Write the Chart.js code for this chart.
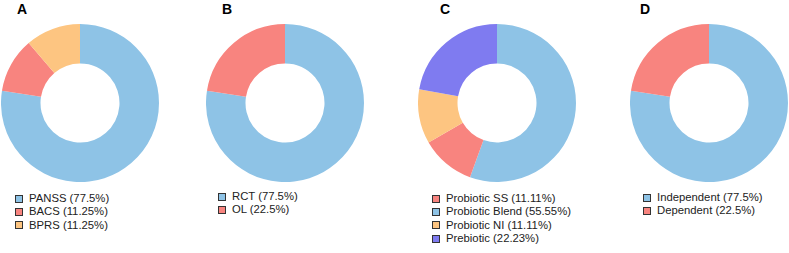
<!DOCTYPE html>
<html>
<head>
<meta charset="utf-8">
<script src="https://cdn.jsdelivr.net/npm/chart.js@4.4.0/dist/chart.umd.min.js"></script>
<style>
  body { margin:0; background:#fff; font-family:"Liberation Sans", Arial, sans-serif; }
  #wrap { position:relative; width:789px; height:253px; overflow:hidden; }
  .panel-label { position:absolute; font-weight:bold; font-size:14px; color:#000; line-height:14px; }
  canvas { position:absolute; }
  .legend { position:absolute; font-size:11.3px; color:#222; }
  .legend div { height:13.3px; line-height:13.3px; white-space:nowrap; display:flex; align-items:center; }
  .legend span.box { display:inline-block; width:6px; height:6px; border:1px solid #333; margin-right:6px; }
</style>
</head>
<body>
<div id="wrap"></div>
<script>
// colours
const BLUE = "#8EC3E6", RED = "#F8847F", ORANGE = "#FDC581", PURPLE = "#7F7BF0";

// A - outcome scales
const aLabels = ["PANSS", "BACS", "BPRS"];
const aValues = [77.5, 11.25, 11.25];
const aText = ["77.5%", "11.25%", "11.25%"];

// B - study design
const bLabels = ["RCT", "OL"];
const bValues = [77.5, 22.5];
const bText = ["77.5%", "22.5%"];

// C - intervention (drawing order starts with blend at 12 o'clock)
const cLabels = ["Probiotic Blend", "Probiotic SS", "Probiotic NI", "Prebiotic"];
const cValues = [55.55, 11.11, 11.11, 22.23];
const cText = ["55.55%", "11.11%", "11.11%", "22.23%"];
const cLegendOrder = [1, 0, 2, 3];

// D - funding
const dLabels = ["Independent", "Dependent"];
const dValues = [77.5, 22.5];
const dText = ["77.5%", "22.5%"];

const panels = [
  { tag:"A", labels:aLabels, values:aValues, text:aText, colors:[BLUE, RED, ORANGE],
    tagX:17, cx:1, legX:15, legY:192, order:[0,1,2] },
  { tag:"B", labels:bLabels, values:bValues, text:bText, colors:[BLUE, RED],
    tagX:222, cx:206, legX:218, legY:190, order:[0,1] },
  { tag:"C", labels:cLabels, values:cValues, text:cText, colors:[BLUE, RED, ORANGE, PURPLE],
    tagX:440, cx:418, legX:432, legY:192, order:cLegendOrder },
  { tag:"D", labels:dLabels, values:dValues, text:dText, colors:[BLUE, RED],
    tagX:640, cx:630, legX:643, legY:191, order:[0,1] }
];

const wrap = document.getElementById("wrap");

panels.forEach(p => {
  const tag = document.createElement("div");
  tag.className = "panel-label";
  tag.style.left = p.tagX + "px";
  tag.style.top = "2px";
  tag.textContent = p.tag;
  wrap.appendChild(tag);

  const cv = document.createElement("canvas");
  cv.width = 158; cv.height = 158;
  cv.style.left = p.cx + "px";
  cv.style.top = "24px";
  wrap.appendChild(cv);

  new Chart(cv.getContext("2d"), {
    type: "doughnut",
    data: {
      labels: p.labels,
      datasets: [{
        data: p.values,
        backgroundColor: p.colors,
        borderWidth: 0,
        hoverOffset: 0
      }]
    },
    options: {
      responsive: false,
      animation: false,
      cutout: "50%",
      layout: { padding: 0 },
      plugins: { legend: { display: false }, tooltip: { enabled: false } }
    }
  });

  const leg = document.createElement("div");
  leg.className = "legend";
  leg.style.left = p.legX + "px";
  leg.style.top = p.legY + "px";
  leg.innerHTML = p.order.map(i =>
    `<div><span class="box" style="background:${p.colors[i]}"></span>${p.labels[i]} (${p.text[i]})</div>`
  ).join("");
  wrap.appendChild(leg);
});
</script>
</body>
</html>
